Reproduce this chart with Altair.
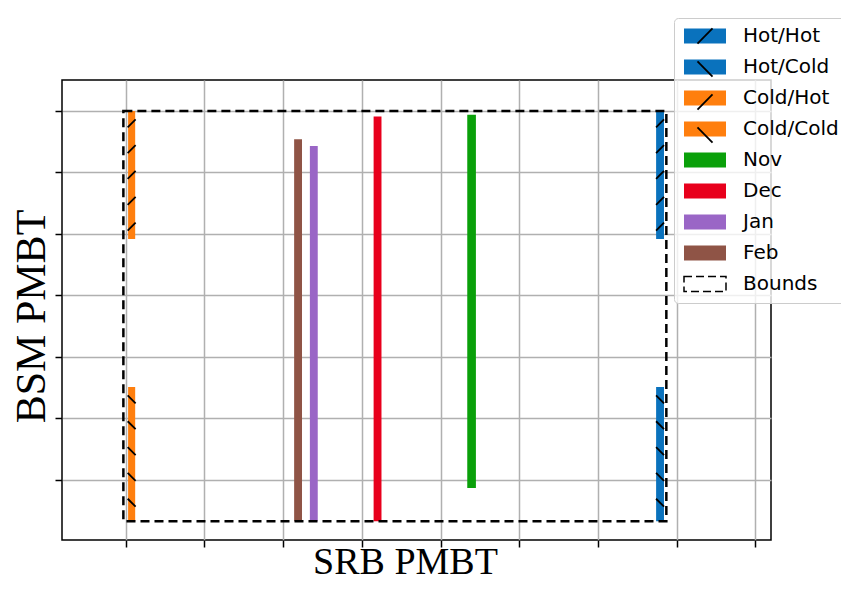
import altair as alt
import pandas as pd

# ---- data ----
series = ["Hot/Hot", "Hot/Cold", "Cold/Hot", "Cold/Cold", "Nov", "Dec", "Jan", "Feb", "Bounds"]
fill_colors = ["#0a72bd", "#0a72bd", "#ff7f0e", "#ff7f0e", "#0aa00a", "#e8001c", "#9a66c6", "#8f5446", "transparent"]
stroke_colors = ["transparent"] * 8 + ["black"]

bar_series = ["Hot/Hot", "Hot/Cold", "Cold/Hot", "Cold/Cold", "Nov", "Dec", "Jan", "Feb", "Bounds"]
x_start = [6.74, 6.74, 0.03, 0.03, 4.34, 3.15, 2.34, 2.14, -0.03]
x_end = [6.84, 6.84, 0.12, 0.12, 4.45, 3.25, 2.44, 2.24, 6.87]
y_start = [3.92, -0.67, 3.92, -0.67, -0.13, -0.67, -0.67, -0.67, -0.67]
y_end = [6.0, 1.51, 6.0, 1.51, 5.94, 5.91, 5.43, 5.54, 6.0]

hatched = ["Hot/Hot", "Hot/Cold", "Cold/Hot", "Cold/Cold"]
slash = "M-0.94,0.94L0.94,-0.94"
backslash = "M-0.94,-0.94L0.94,0.94"
hatch_paths = [slash, backslash, slash, backslash]
hatch_step = 0.42

x_ticks = list(range(9))
y_ticks = list(range(7))

df = pd.DataFrame({"series": bar_series, "x0": x_start, "x1": x_end, "y0": y_start, "y1": y_end})

rows = []
for s in hatched:
    i = bar_series.index(s)
    xc = (x_start[i] + x_end[i]) / 2
    y = y_end[i] - 0.2
    while y > y_start[i] + 0.05:
        rows.append({"hatch": s, "hx": xc, "hy": y})
        y -= hatch_step
hdf = pd.DataFrame(rows)

xscale = alt.Scale(domain=[-0.81, 8.2], nice=False, zero=False)
yscale = alt.Scale(domain=[-0.976, 6.504], nice=False, zero=False)

LX, LY = 612, -62
swatch = "M-2.625,-0.9375H2.625V0.9375H-2.625Z"

legA = alt.Legend(
    title=None, orient="none", legendX=LX, legendY=LY,
    symbolType=swatch, symbolSize=256, symbolOffset=13, symbolDash=[8, 4],
    labelFont="DejaVu Sans", labelFontSize=20, labelColor="black", labelOffset=28,
    padding=8, rowPadding=9, fillColor="rgba(255,255,255,0.8)",
    strokeColor="#cccccc", cornerRadius=4, zindex=1,
)
legB = alt.Legend(
    title=None, orient="none", legendX=LX, legendY=LY,
    symbolSize=256, symbolOffset=13, symbolStrokeColor="black", symbolStrokeWidth=1.8,
    labelFont="DejaVu Sans", labelFontSize=20, labelOffset=28, labelExpr="''",
    padding=8, rowPadding=9, zindex=2,
)

rect = alt.Chart(df).mark_rect(strokeWidth=2.5, strokeDash=[9, 5]).encode(
    x=alt.X("x0:Q", scale=xscale,
            axis=alt.Axis(values=x_ticks, title="SRB PMBT", labels=False, titleX=343,
                          titleFontSize=38, titlePadding=-4)),
    x2="x1:Q",
    y=alt.Y("y0:Q", scale=yscale,
            axis=alt.Axis(values=y_ticks, title="BSM PMBT", labels=False, titleY=236,
                          titleFontSize=42, titlePadding=1)),
    y2="y1:Q",
    fill=alt.Fill("series:N", scale=alt.Scale(domain=series, range=fill_colors), legend=legA),
    stroke=alt.Stroke("series:N", scale=alt.Scale(domain=series, range=stroke_colors), legend=legA),
)

hatch = alt.Chart(hdf).mark_point(filled=False, color="black", strokeWidth=1.8, size=72, opacity=1).encode(
    x=alt.X("hx:Q", scale=xscale),
    y=alt.Y("hy:Q", scale=yscale),
    shape=alt.Shape("hatch:N", scale=alt.Scale(domain=hatched, range=hatch_paths), legend=legB),
)

chart = alt.layer(rect, hatch).properties(
    width=709, height=460,
    autosize=alt.AutoSizeParams(type="none"),
    padding={"left": 54, "top": 72, "right": 70, "bottom": 42},
).configure_view(
    stroke="black", strokeWidth=1.5
).configure_axis(
    domain=False, grid=True, gridColor="#b0b0b0", gridWidth=1.5,
    ticks=True, tickColor="black", tickSize=7, tickWidth=1.5,
    titleFont="Liberation Serif", titleFontWeight="normal", titleColor="black",
    titleFontSize=40, titlePadding=4,
)

chart.save("out.html", embed_options={"renderer": "svg", "actions": False})
